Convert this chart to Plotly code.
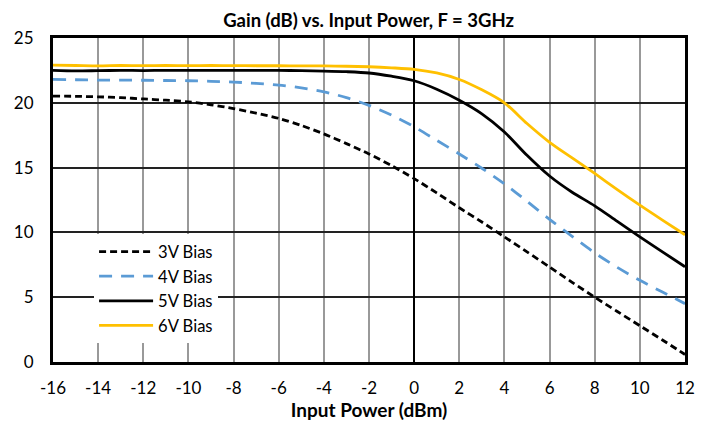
import plotly.graph_objects as go

x_dbm = list(range(-16, 13))

gain_3v = [20.52, 20.5, 20.46, 20.4, 20.3, 20.2, 20.07, 19.85, 19.55, 19.2, 18.8, 18.25, 17.6, 16.85,
           16.05, 15.15, 14.15, 13.05, 11.9, 10.8, 9.65, 8.5, 7.33, 6.15, 5.0, 3.9, 2.8, 1.7, 0.58]
gain_4v = [21.8, 21.78, 21.75, 21.75, 21.74, 21.72, 21.7, 21.66, 21.6, 21.5, 21.37, 21.15, 20.85, 20.4,
           19.8, 19.05, 18.15, 17.1, 16.05, 14.95, 13.75, 12.4, 11.0, 9.7, 8.42, 7.3, 6.3, 5.4, 4.5]
gain_5v = [22.5, 22.46, 22.48, 22.5, 22.49, 22.5, 22.5, 22.5, 22.5, 22.5, 22.5, 22.48, 22.45, 22.4,
           22.3, 22.05, 21.7, 21.05, 20.2, 19.15, 17.75, 15.95, 14.35, 13.1, 12.05, 10.85, 9.66, 8.5, 7.35]
gain_6v = [22.9, 22.88, 22.85, 22.88, 22.87, 22.88, 22.87, 22.88, 22.87, 22.86, 22.86, 22.85, 22.85, 22.82,
           22.78, 22.7, 22.58, 22.3, 21.8, 21.0, 20.0, 18.4, 16.95, 15.75, 14.55, 13.3, 12.1, 10.95, 9.82]

series_names = ["3V Bias", "4V Bias", "5V Bias", "6V Bias"]
x_ticks = list(range(-16, 13, 2))
x_tick_labels = [str(v) for v in x_ticks]
y_ticks = [0, 5, 10, 15, 20, 25]
y_tick_labels = [str(v) for v in y_ticks]

FONT = "Lato, 'Open Sans', sans-serif"

styles = [
    dict(color="black", width=2.8, dash="7px,4px"),
    dict(color="#5B9BD5", width=2.8, dash="13px,9px"),
    dict(color="black", width=2.8, dash="solid"),
    dict(color="#FFC000", width=2.8, dash="solid"),
]

fig = go.Figure()
for name, ys, st in zip(series_names, [gain_3v, gain_4v, gain_5v, gain_6v], styles):
    fig.add_trace(go.Scatter(x=x_dbm, y=ys, mode="lines", name=name,
                             line=dict(shape="spline", smoothing=0.8, **st)))

# page body has an 8px default margin, so the figure is sized/offset to compensate
fig.update_layout(
    template="none",
    width=703, height=420,
    margin=dict(l=45, r=26, t=30, b=66, autoexpand=False),
    paper_bgcolor="white", plot_bgcolor="white",
    font=dict(family=FONT, color="black", size=17),
    title=dict(text="<b>Gain (dB) vs. Input Power, F = 3GHz</b>", x=0.513, xanchor="center",
               y=1 - 12.5 / 420, yanchor="middle", yref="container",
               font=dict(size=18.5, family=FONT)),
    legend=dict(x=0.065, y=0.394, xanchor="left", yanchor="top", bgcolor="white",
                borderwidth=0, font=dict(size=16.6, family=FONT), itemwidth=54,
                tracegroupgap=0),
    showlegend=True,
)
fig.update_xaxes(range=[-16, 12], tickvals=x_ticks, ticktext=x_tick_labels, ticks="",
                 automargin=False, showgrid=True,
                 gridcolor="#999999", gridwidth=1.6,
                 zeroline=True, zerolinecolor="black", zerolinewidth=2,
                 showline=True, linecolor="black", linewidth=3, mirror=True,
                 tickfont=dict(size=17), ticklabelstandoff=9,
                 title=dict(text="<b>Input Power (dBm)</b>", font=dict(size=19), standoff=4))
fig.update_yaxes(range=[0, 25], tickvals=y_ticks, ticktext=y_tick_labels, ticks="",
                 automargin=False, showgrid=True,
                 gridcolor="#222222", gridwidth=1.6, zeroline=False,
                 showline=True, linecolor="black", linewidth=3, mirror=True,
                 tickfont=dict(size=17), ticklabelstandoff=13)

fig.write_html("out.html")
